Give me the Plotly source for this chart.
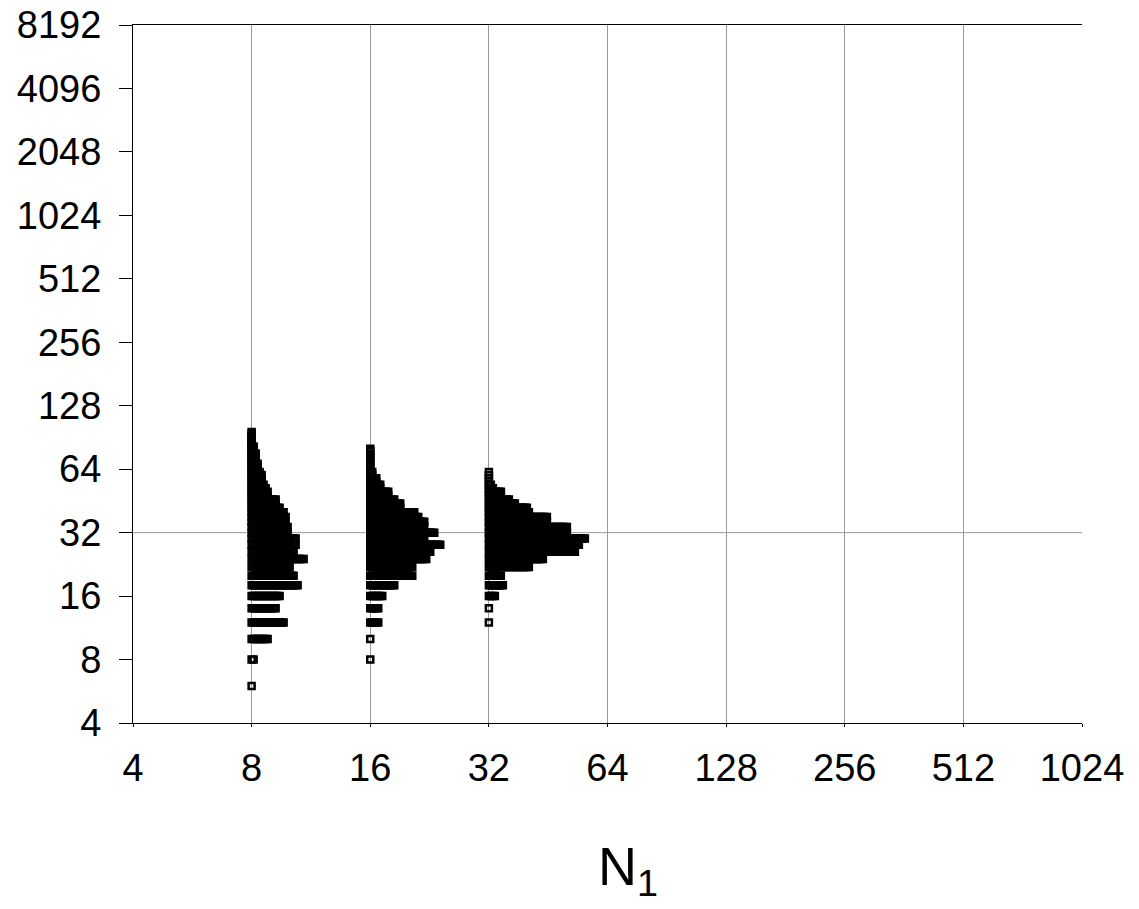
import plotly.graph_objects as go
import numpy as np

# ---- data ----
# N1 groups (x positions) and, for each, the N2 values (y) with their frequency counts
N1_GROUPS = [8, 16, 32]

Y_8 = [6, 8, 10, 12, 14, 16, 18, 20, 22, 24, 26, 28, 30, 32, 34, 36, 38, 40, 42, 44, 46, 48,
       50, 52, 54, 56, 58, 60, 62, 64, 66, 68, 70, 72, 74, 76, 78, 80, 82, 84, 86, 88, 90, 92, 94, 96]
C_8 = [1, 2, 9, 17, 13, 15, 24, 22, 20, 27, 22, 23, 23, 19, 19, 18, 18, 17, 15, 13, 13, 9,
       9, 8, 7, 6, 6, 6, 5, 4, 4, 4, 3, 3, 3, 3, 2, 2, 2, 1, 1, 1, 1, 1, 1, 1]

Y_16 = [8, 10, 12, 14, 16, 18, 20, 22, 24, 26, 28, 30, 32, 34, 36, 38, 40, 42, 44, 46, 48,
        50, 52, 54, 56, 58, 60, 62, 64, 66, 68, 70, 72, 74, 76, 78, 80]
C_16 = [1, 1, 5, 5, 7, 13, 22, 22, 29, 31, 36, 28, 33, 28, 28, 25, 23, 16, 16, 13, 10,
        10, 6, 6, 4, 4, 2, 2, 1, 1, 1, 1, 1, 1, 1, 1, 1]

Y_32 = [12, 14, 16, 18, 20, 22, 24, 26, 28, 30, 32, 34, 36, 38, 40, 42, 44, 46, 48,
        50, 52, 54, 56, 58, 60, 62]
C_32 = [1, 1, 4, 8, 7, 21, 28, 44, 46, 49, 40, 40, 30, 30, 21, 20, 14, 11, 7,
        7, 3, 2, 1, 1, 1, 1]

X_TICKS = [4, 8, 16, 32, 64, 128, 256, 512, 1024]
Y_TICKS = [4, 8, 16, 32, 64, 128, 256, 512, 1024, 2048, 4096, 8192]
REF_Y = 32
X_TITLE = "N<sub>1</sub>"

# ---- figure geometry ----
W, H = 1139, 909
ML, MR, MT, MB = 133, 57, 25, 186
plot_w = W - ML - MR
plot_h = H - MT - MB
octaves_x = np.log2(X_TICKS[-1] / X_TICKS[0])
px_per_oct = plot_w / octaves_x
STEP_PX = 2.0  # horizontal stacking offset of repeated points, in pixels
step_oct = STEP_PX / px_per_oct

fig = go.Figure()
for x0, ys, cs in zip(N1_GROUPS, [Y_8, Y_16, Y_32], [C_8, C_16, C_32]):
    xs, yy = [], []
    for y, c in zip(ys, cs):
        for k in range(c):
            xs.append(x0 * 2 ** (k * step_oct))
            yy.append(y)
    fig.add_trace(go.Scatter(
        x=xs, y=yy, mode="markers",
        marker=dict(symbol="square-open", size=6, color="black",
                    line=dict(color="black", width=2.5)),
        showlegend=False, hoverinfo="skip",
    ))

fig.add_shape(type="line", xref="paper", yref="y", x0=0, x1=1, y0=REF_Y, y1=REF_Y,
              line=dict(color="#9a9a9a", width=1), layer="below")

font_family = "Liberation Sans, Arial, sans-serif"
fig.update_layout(
    width=W, height=H, autosize=False,
    margin=dict(l=ML, r=MR, t=MT, b=MB),
    paper_bgcolor="white", plot_bgcolor="white",
    font=dict(family=font_family, color="black"),
    xaxis=dict(
        type="log", range=[np.log10(X_TICKS[0]), np.log10(X_TICKS[-1])],
        tickvals=X_TICKS, ticktext=[str(v) for v in X_TICKS],
        tickfont=dict(size=38, family=font_family),
        showgrid=True, gridcolor="#9a9a9a", gridwidth=1,
        showline=True, linecolor="black", linewidth=1, mirror=True,
        ticks="outside", ticklen=3, tickcolor="black",
        ticklabelstandoff=8, zeroline=False, automargin=False,
        ticklabeloverflow="allow",
    ),
    yaxis=dict(
        type="log", range=[np.log10(Y_TICKS[0]), np.log10(Y_TICKS[-1])],
        tickvals=Y_TICKS, ticktext=[str(v) for v in Y_TICKS],
        tickfont=dict(size=38, family=font_family),
        showgrid=False,
        showline=True, linecolor="black", linewidth=1,
        ticks="outside", ticklen=13, tickcolor="black",
        ticklabelstandoff=10, zeroline=False, automargin=False,
        ticklabeloverflow="allow",
    ),
    annotations=[dict(
        text=X_TITLE, xref="paper", yref="paper",
        x=(628 - ML) / plot_w, y=-(834 - (H - MB)) / plot_h,
        xanchor="center", yanchor="top", showarrow=False,
        font=dict(size=54, family=font_family, color="black"),
    )],
)

fig.write_html("out.html", config={"displayModeBar": False},
               post_script="document.body.style.margin='0';")
